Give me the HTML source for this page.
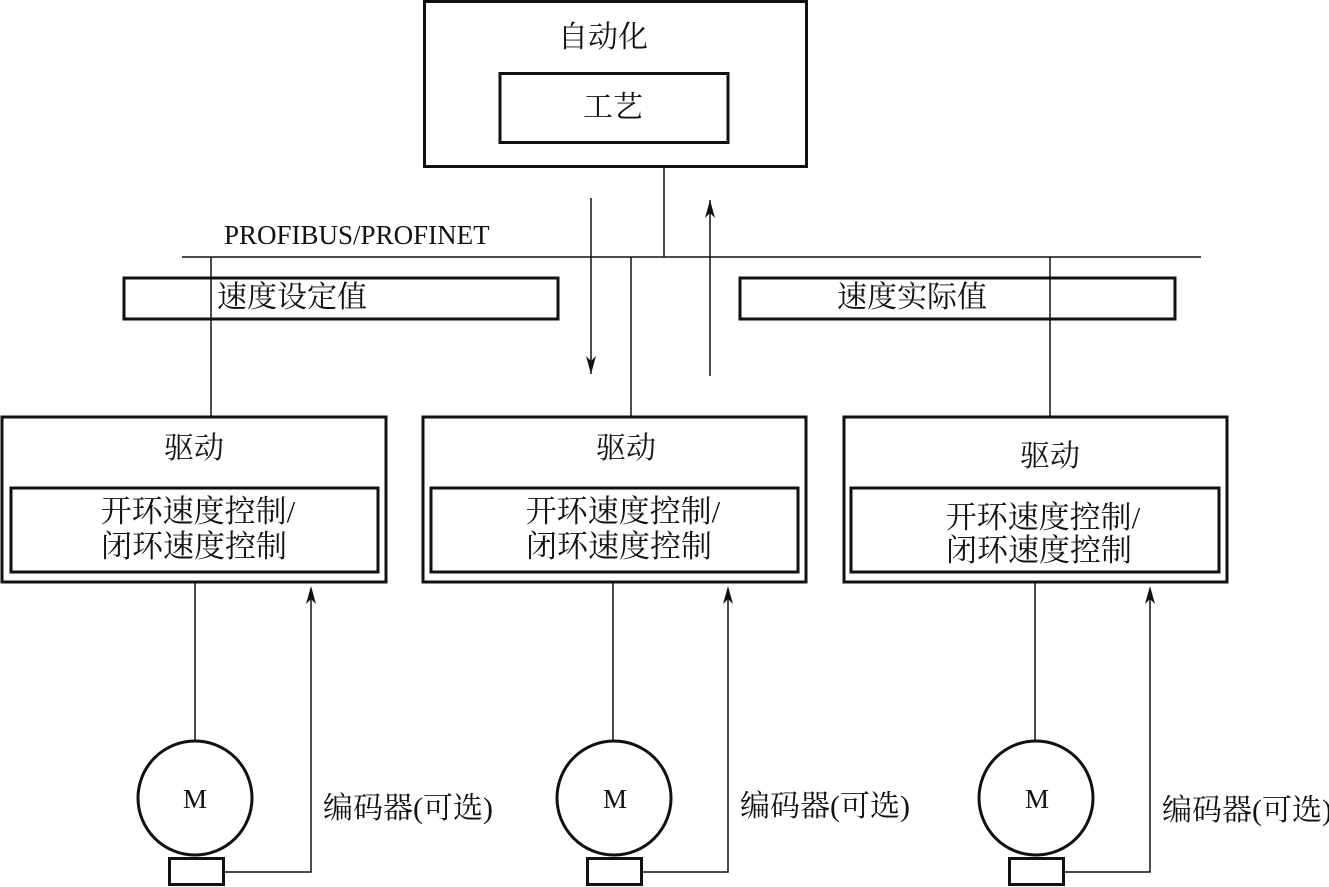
<!DOCTYPE html>
<html><head><meta charset="utf-8"><style>
html,body{margin:0;padding:0;background:#fff;}
svg{display:block;}
text{font-family:"Liberation Serif","Noto Serif CJK SC","Noto Sans CJK SC",serif;fill:#111;}
</style></head><body>
<svg width="1329" height="887" viewBox="0 0 1329 887" xmlns="http://www.w3.org/2000/svg">
<g fill="none" stroke="#111">
<rect x="424.5" y="1.5" width="382" height="165" stroke-width="3"/>
<rect x="500" y="73.5" width="228" height="69" stroke-width="3"/>
<line x1="664" y1="167" x2="664" y2="257" stroke-width="1.5"/>
<line x1="182" y1="257" x2="1201" y2="257" stroke-width="1.5"/>
<line x1="591" y1="198" x2="591" y2="374" stroke-width="1.5"/>
<path d="M586,356 L591,374 L596,356 L591,361 Z" fill="#111" stroke="none"/>
<line x1="710" y1="200" x2="710" y2="376" stroke-width="1.5"/>
<path d="M705,218 L710,200 L715,218 L710,213 Z" fill="#111" stroke="none"/>
<rect x="124" y="278" width="434" height="41" stroke-width="3"/>
<rect x="740" y="278" width="435" height="41" stroke-width="3"/>
<line x1="211" y1="257" x2="211" y2="417" stroke-width="1.5"/>
<line x1="631" y1="257" x2="631" y2="417" stroke-width="1.5"/>
<line x1="1050" y1="257" x2="1050" y2="417" stroke-width="1.5"/>
<rect x="2" y="417" width="384" height="165" stroke-width="3"/>
<rect x="11" y="488" width="367" height="84" stroke-width="3"/>
<rect x="423" y="417" width="383" height="165" stroke-width="3"/>
<rect x="431" y="488" width="367" height="84" stroke-width="3"/>
<rect x="844" y="417" width="383" height="165" stroke-width="3"/>
<rect x="851" y="488" width="368" height="84" stroke-width="3"/>
<line x1="195" y1="583" x2="195" y2="740" stroke-width="1.5"/>
<circle cx="195" cy="798" r="57" stroke-width="3"/>
<rect x="169.5" y="858.5" width="54" height="26" stroke-width="3"/>
<polyline points="224,872 311,872 311,590" stroke-width="1.5"/>
<path d="M306,604 L311,586 L316,604 L311,599 Z" fill="#111" stroke="none"/>
<line x1="613" y1="583" x2="613" y2="740" stroke-width="1.5"/>
<circle cx="614" cy="798" r="57" stroke-width="3"/>
<rect x="587.5" y="858.5" width="54" height="26" stroke-width="3"/>
<polyline points="642,872 728,872 728,590" stroke-width="1.5"/>
<path d="M723,604 L728,586 L733,604 L728,599 Z" fill="#111" stroke="none"/>
<line x1="1035" y1="583" x2="1035" y2="740" stroke-width="1.5"/>
<circle cx="1036" cy="798" r="57" stroke-width="3"/>
<rect x="1009.5" y="858.5" width="54" height="26" stroke-width="3"/>
<polyline points="1064,872 1150,872 1150,590" stroke-width="1.5"/>
<path d="M1145,604 L1150,586 L1155,604 L1150,599 Z" fill="#111" stroke="none"/>
</g>
<g font-size="30" text-anchor="middle">
<text x="603" y="47">自动化</text>
<text x="613" y="117">工艺</text>
<text x="194" y="458">驱动</text>
<text x="198" y="522" font-size="31">开环速度控制/</text>
<text x="194" y="557" font-size="31">闭环速度控制</text>
<text x="626" y="458">驱动</text>
<text x="623" y="522" font-size="31">开环速度控制/</text>
<text x="619" y="557" font-size="31">闭环速度控制</text>
<text x="1050" y="466">驱动</text>
<text x="1043" y="528" font-size="31">开环速度控制/</text>
<text x="1039" y="561" font-size="31">闭环速度控制</text>
<text x="195" y="808" font-size="27">M</text>
<text x="615" y="808" font-size="27">M</text>
<text x="1037" y="808" font-size="27">M</text>
</g>
<g font-size="30">
<text x="217" y="307">速度设定值</text>
<text x="837" y="307">速度实际值</text>
<text x="323" y="818">编码器(可选)</text>
<text x="740" y="816">编码器(可选)</text>
<text x="1162" y="820">编码器(可选)</text>
<text x="224" y="244" font-size="27">PROFIBUS/PROFINET</text>
</g>
</svg>
</body></html>
